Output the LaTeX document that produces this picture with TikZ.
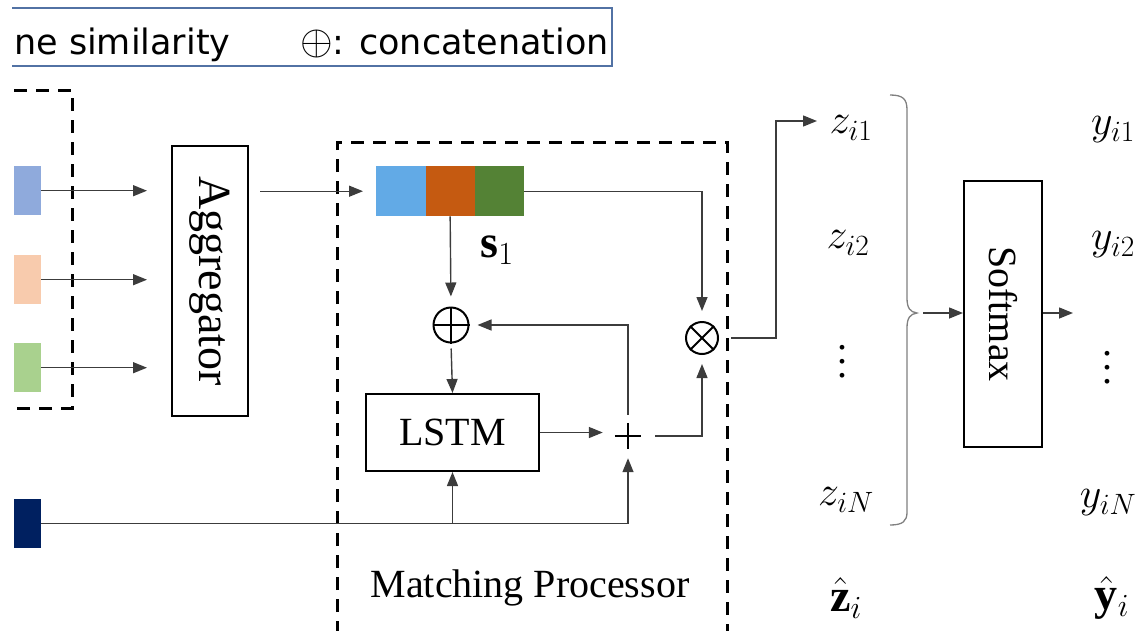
\RequirePackage{fix-cm}
\documentclass[tikz,border=0pt]{standalone}
\usepackage{fontspec}
\setmainfont{Liberation Serif}
\newfontfamily\legfont{DejaVu Sans}
\usetikzlibrary{arrows.meta}
\definecolor{legc}{HTML}{5272A4}
\definecolor{linec}{HTML}{3C3C3C}
\definecolor{lblue}{HTML}{8FAADC}
\definecolor{lorange}{HTML}{F8CBAD}
\definecolor{lgreen}{HTML}{A9D18E}
\definecolor{navy}{HTML}{002060}
\definecolor{sblue}{HTML}{62AAE6}
\definecolor{sorange}{HTML}{C55A11}
\definecolor{sgreen}{HTML}{548235}
\newcommand\myvdots{\vbox{\baselineskip=14pt\lineskiplimit=-20pt\hbox{.}\hbox{.}\hbox{.}}}
\begin{document}
\begin{tikzpicture}[x=1pt,y=-1pt,
  conn/.style={draw=linec, line width=1.4pt},
  arr/.style={conn, -{Triangle[length=14pt,width=11pt]}},
  dbox/.style={draw=black, line width=3pt, dash pattern=on 13pt off 9pt},
  blk/.style={draw=black, line width=2pt, inner sep=0pt, anchor=north west},
  cell/.style={inner sep=0pt, minimum width=49.3pt, minimum height=50pt, anchor=north west},
  sq/.style={inner sep=0pt, minimum width=27pt, minimum height=49pt, anchor=north west},
  sym/.style={circle, draw=black, line width=2pt, inner sep=0pt},
  serif/.style={font=\fontsize{40}{48}\selectfont},
  mth/.style={font=\fontsize{42}{50}\selectfont, inner sep=0pt},
  bmth/.style={font=\fontsize{46}{54}\selectfont, inner sep=0pt},
  dts/.style={font=\fontsize{40}{48}\selectfont, inner sep=0pt},
  leg/.style={font=\legfont\fontsize{35}{42}\selectfont, inner sep=0pt}]
\useasboundingbox (0,0) rectangle (1145,630);

% legend
\draw[legc, line width=2pt] (12,8) -- (612,8) -- (612,66) -- (12,66);
\node[leg, anchor=base west] (legA) at (14,54) {ne similarity};
\node[leg, anchor=base east] (legB) at (609,54) {{\fontsize{42}{48}\selectfont$\oplus$}: concatenation};

% left dashed box and inputs
\draw[dbox] (14,90) -- (72,90) -- (72,408) -- (14,408);
\node[sq, fill=lblue] (sq1) at (14,166) {};
\node[sq, fill=lorange] (sq2) at (14,255) {};
\node[sq, fill=lgreen] (sq3) at (14,343) {};
\node[sq, fill=navy] (sq4) at (14,499) {};

% aggregator
\node[blk, minimum width=76pt, minimum height=270pt, font=\fontsize{46}{52}\selectfont] (agg) at (171,145) {\rotatebox{-90}{Aggregator}};
\draw[arr, shorten >=24pt] (sq1.east) -- (sq1.east -| agg.west);
\draw[arr, shorten >=24pt] (sq2.east) -- (sq2.east -| agg.west);
\draw[arr, shorten >=24pt] (sq3.east) -- (sq3.east -| agg.west);

% matching processor
\draw[dbox] (337,634) -- (337,142) -- (727,142) -- (727,634);
\node[serif] (mplab) at (530,588) {Matching Processor};
\node[cell, fill=sblue] (s1a) at (376,166) {};
\node[cell, fill=sorange] (s1b) at (425.3,166) {};
\node[cell, fill=sgreen] (s1c) at (474.6,166) {};
\node[bmth] (s1lab) at (497,250) {$\mathbf{s}_1$};
\draw[arr, shorten <=11pt, shorten >=13pt] (agg.east |- s1a.west) -- (s1a.west);

\node[sym, minimum size=35pt] (cat) at (451,325) {};
\draw[line width=2pt] (cat.north) -- (cat.south) (cat.west) -- (cat.east);
\node[sym, minimum size=32pt] (otimes) at (702,338) {};
\draw[line width=2pt] (otimes.north east) -- (otimes.south west) (otimes.north west) -- (otimes.south east);

\node[blk, minimum width=173pt, minimum height=77pt, serif] (lstm) at (365,393) {LSTM};
\node[inner sep=0pt, minimum size=26pt] (plus) at (628,436) {};
\draw[line width=2.6pt] (plus.north) -- (plus.south) (plus.west) -- (plus.east);

\draw[arr, shorten >=10pt] (s1b.south) -- (cat.north);
\draw[arr, shorten <=5pt] (cat.south) -- (lstm.north);
\draw[arr, shorten >=12pt] (lstm.east) -- (lstm.east -| plus.west);
\draw[arr, shorten <=8pt, shorten >=8pt] (plus.north) |- (cat.east);
\draw[arr, shorten <=14pt, shorten >=9pt] (plus.east) -| (otimes.south);
\draw[arr, shorten >=10pt] (s1c.east) -| (otimes.north);

\draw[conn] (sq4.east) -- (sq4.east -| plus.south);
\draw[arr] (sq4.east -| lstm.south) -- (lstm.south);
\draw[arr, shorten >=9pt] (sq4.east -| plus.south) -- (plus.south);

% outputs z
\node[mth] (z1) at (851,128) {$z_{i1}$};
\node[mth] (z2) at (848,243) {$z_{i2}$};
\node[dts] (zd) at (842,362) {\myvdots};
\node[mth] (zN) at (846,500) {$z_{iN}$};
\node[bmth] (zhat) at (846,598) {$\hat{\mathbf{z}}_i$};
\coordinate (bend) at (776,338);
\coordinate (z1in) at (817,121);
\draw[arr, shorten <=12pt] (otimes.east) -- (bend) |- (z1in);

% brace
\coordinate (btip) at (917,313);
\draw[draw=gray, line width=1.3pt] (890,95) .. controls (903,95) and (907,99) .. (907,110)
  -- (907,298) .. controls (907,308) and (910,312) .. (btip)
  .. controls (910,314) and (907,318) .. (907,328)
  -- (907,512) .. controls (907,521) and (903,525) .. (890,525);

% softmax
\node[blk, minimum width=78pt, minimum height=266pt, font=\fontsize{40}{48}\selectfont] (soft) at (963,180) {\rotatebox{-90}{Softmax}};
\draw[arr, shorten <=6pt] (btip) -- (btip -| soft.west);
\coordinate (sout) at (1073,313);
\draw[arr] (soft.east |- sout) -- (sout);

% outputs y
\node[mth] (y1) at (1113,130) {$y_{i1}$};
\node[mth] (y2) at (1113,245) {$y_{i2}$};
\node[dts] (yd) at (1107,368) {\myvdots};
\node[mth] (yN) at (1108,503) {$y_{iN}$};
\node[bmth] (yhat) at (1112,598) {$\hat{\mathbf{y}}_i$};
\end{tikzpicture}
\end{document}
